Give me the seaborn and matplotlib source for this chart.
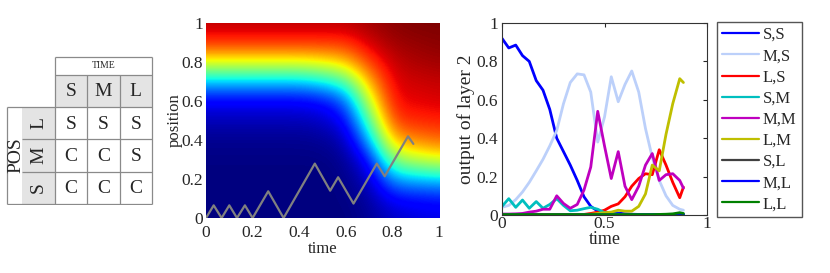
import numpy as np
import pandas as pd
import matplotlib
matplotlib.use('Agg')
import matplotlib.pyplot as plt
from matplotlib.patches import Rectangle
import seaborn as sns

# --- rule table ---
time_cols = ['S', 'M', 'L']
pos_rows = ['L', 'M', 'S']
cells = [['S', 'S', 'S'],
         ['C', 'C', 'S'],
         ['C', 'C', 'C']]

# --- heat field (rows = position 0..1, cols = time 0..1) ---
grid_t = [0, 0.1, 0.2, 0.3, 0.4, 0.5, 0.6, 0.7, 0.8, 0.9, 1.0]
grid_p = [0, 0.1, 0.2, 0.3, 0.4, 0.5, 0.6, 0.7, 0.8, 0.9, 1.0]
field = [
    [0.00, 0.00, 0.00, 0.00, 0.00, 0.00, 0.000, 0.02, 0.06, 0.08, 0.09],
    [0.00, 0.00, 0.00, 0.00, 0.00, 0.00, 0.005, 0.03, 0.12, 0.13, 0.14],
    [0.00, 0.00, 0.00, 0.00, 0.00, 0.00, 0.010, 0.06, 0.28, 0.31, 0.33],
    [0.005, 0.005, 0.005, 0.005, 0.005, 0.005, 0.02, 0.13, 0.52, 0.58, 0.62],
    [0.015, 0.015, 0.015, 0.015, 0.015, 0.02, 0.05, 0.30, 0.72, 0.77, 0.80],
    [0.05, 0.05, 0.05, 0.05, 0.05, 0.06, 0.12, 0.45, 0.85, 0.87, 0.88],
    [0.11, 0.11, 0.11, 0.11, 0.11, 0.13, 0.22, 0.60, 0.90, 0.91, 0.92],
    [0.32, 0.32, 0.32, 0.32, 0.32, 0.36, 0.44, 0.73, 0.92, 0.93, 0.94],
    [0.63, 0.63, 0.63, 0.63, 0.63, 0.65, 0.70, 0.85, 0.94, 0.96, 0.97],
    [0.86, 0.86, 0.86, 0.86, 0.86, 0.86, 0.86, 0.93, 0.97, 0.98, 0.99],
    [0.95, 0.95, 0.95, 0.95, 0.95, 0.95, 0.95, 0.97, 0.99, 1.00, 1.00],
]

# trajectory drawn over the field
path_t = [0, 0.033, 0.067, 0.1, 0.133, 0.167, 0.2, 0.267, 0.333, 0.467,
          0.533, 0.567, 0.633, 0.733, 0.767, 0.867, 0.89]
path_p = [0, 0.065, 0, 0.065, 0, 0.065, 0, 0.137, 0, 0.279,
          0.14, 0.209, 0.074, 0.279, 0.214, 0.419, 0.38]

# --- layer 2 outputs ---
t = [0, 0.033, 0.067, 0.1, 0.133, 0.167, 0.2, 0.233, 0.267, 0.3,
     0.333, 0.367, 0.4, 0.433, 0.467, 0.5, 0.533, 0.567, 0.6, 0.633,
     0.667, 0.7, 0.733, 0.767, 0.8, 0.833, 0.867, 0.885]
ss = [0.92, 0.87, 0.885, 0.83, 0.80, 0.70, 0.65, 0.55, 0.40, 0.33,
      0.26, 0.18, 0.095, 0.045, 0.02, 0.015, 0.012, 0.01, 0.006, 0.004,
      0.003, 0.002, 0.002, 0.002, 0.002, 0.002, 0.002, 0.002]
ms = [0.04, 0.05, 0.08, 0.12, 0.17, 0.23, 0.29, 0.36, 0.44, 0.58,
      0.69, 0.735, 0.73, 0.64, 0.38, 0.51, 0.72, 0.59, 0.68, 0.75,
      0.64, 0.45, 0.30, 0.18, 0.10, 0.05, 0.03, 0.025]
ls = [0.003, 0.003, 0.003, 0.003, 0.003, 0.003, 0.003, 0.003, 0.003, 0.003,
      0.003, 0.003, 0.003, 0.008, 0.015, 0.025, 0.045, 0.058, 0.095, 0.15,
      0.19, 0.215, 0.21, 0.34, 0.26, 0.17, 0.09, 0.145]
sm = [0.045, 0.085, 0.04, 0.078, 0.035, 0.07, 0.035, 0.055, 0.085, 0.05,
      0.022, 0.025, 0.033, 0.04, 0.03, 0.012, 0.006, 0.004, 0.002, 0.002,
      0.002, 0.002, 0.002, 0.002, 0.002, 0.002, 0.002, 0.002]
mm = [0.005, 0.005, 0.006, 0.008, 0.015, 0.02, 0.03, 0.03, 0.1, 0.06,
      0.035, 0.055, 0.13, 0.25, 0.54, 0.36, 0.19, 0.33, 0.15, 0.08,
      0.15, 0.26, 0.32, 0.18, 0.21, 0.215, 0.18, 0.14]
lm = [0.002, 0.002, 0.002, 0.002, 0.002, 0.002, 0.002, 0.002, 0.002, 0.002,
      0.002, 0.002, 0.002, 0.004, 0.008, 0.012, 0.015, 0.025, 0.02, 0.02,
      0.045, 0.11, 0.26, 0.23, 0.42, 0.58, 0.71, 0.69]
sl = [0.002] * 28
ml = [0.001, 0.001, 0.001, 0.001, 0.001, 0.001, 0.001, 0.001, 0.001, 0.001,
      0.001, 0.001, 0.001, 0.001, 0.001, 0.001, 0.001, 0.001, 0.001, 0.001,
      0.001, 0.001, 0.001, 0.001, 0.001, 0.001, 0.002, 0.003]
ll = [0.002, 0.002, 0.002, 0.002, 0.002, 0.002, 0.002, 0.002, 0.002, 0.002,
      0.002, 0.002, 0.002, 0.002, 0.002, 0.002, 0.002, 0.002, 0.002, 0.002,
      0.002, 0.002, 0.002, 0.003, 0.004, 0.006, 0.012, 0.008]

labels = ['S,S', 'M,S', 'L,S', 'S,M', 'M,M', 'L,M', 'S,L', 'M,L', 'L,L']
colors = ['#0000ff', '#bcd0fa', '#ff0000', '#00bfbf', '#bf00bf',
          '#bfbf00', '#404040', '#0000ff', '#008000']

df = pd.DataFrame({
    'time': t * 9,
    'value': ss + ms + ls + sm + mm + lm + sl + ml + ll,
    'series': [lab for lab in labels for _ in t],
})

sns.set_theme(style="white")
plt.rcParams['font.family'] = ['Liberation Serif', 'DejaVu Serif']

W, H = 830, 273
fig = plt.figure(figsize=(8.3, 2.73), dpi=100)


def box(x0, y0, x1, y1):
    return [x0 / W, 1 - y1 / H, (x1 - x0) / W, (y1 - y0) / H]


# ---------- table ----------
tab = fig.add_axes(box(5, 55, 154, 205))
tab.set_xlim(5, 154)
tab.set_ylim(205, 55)
tab.axis('off')
cw = 32.3
x_head = 55
x_pos = 7
x_lab = 22
y_top = 57
y_head = 75
y_body = 107
grey = '#e4e4e4'
lc = '#8a8a8a'
tab.add_patch(Rectangle((x_head, y_head), 3 * cw, y_body - y_head, fc=grey, ec='none'))
tab.add_patch(Rectangle((x_lab, y_body), x_head - x_lab, 3 * cw, fc=grey, ec='none'))
x_end = x_head + 3 * cw
y_end = y_body + 3 * cw
kw = dict(color=lc, lw=0.9, solid_capstyle='butt')
tab.plot([x_head, x_end], [y_top, y_top], **kw)
tab.plot([x_head, x_end], [y_head, y_head], **kw)
tab.plot([x_pos, x_end], [y_body, y_body], **kw)
for i in (1, 2):
    tab.plot([x_lab, x_end], [y_body + i * cw] * 2, **kw)
tab.plot([x_pos, x_end], [y_end, y_end], **kw)
tab.plot([x_pos, x_pos], [y_body, y_end], **kw)
tab.plot([x_head, x_head], [y_top, y_end], **kw)
for i in (1, 2):
    tab.plot([x_head + i * cw] * 2, [y_head, y_end], **kw)
tab.plot([x_end, x_end], [y_top, y_end], **kw)

tab.text(x_head + 1.5 * cw, (y_top + y_head) / 2, 'TIME', fontsize=7,
         ha='center', va='center')
for j, c in enumerate(time_cols):
    tab.text(x_head + (j + 0.5) * cw, (y_head + y_body) / 2 + 1, c,
             fontsize=14, ha='center', va='center')
for i, r in enumerate(pos_rows):
    yc = y_body + (i + 0.5) * cw
    tab.text((x_lab + x_head) / 2, yc, r, fontsize=14, rotation=90,
             ha='center', va='center')
    for j, v in enumerate(cells[i]):
        tab.text(x_head + (j + 0.5) * cw, yc + 1, v, fontsize=14,
                 ha='center', va='center')
tab.text((x_pos + x_lab) / 2 + 1, y_body + 1.5 * cw, 'POS', fontsize=14,
         rotation=90, ha='center', va='center')

# ---------- heat map ----------
ax1 = fig.add_axes(box(206, 23, 439, 218))
ax1.imshow(np.array(field), origin='lower', cmap='jet', vmin=0, vmax=1,
           extent=[-0.05, 1.05, -0.05, 1.05], interpolation='bicubic',
           aspect='auto')
sns.lineplot(x=path_t, y=path_p, color='#808080', lw=1.6, sort=False,
             estimator=None, ax=ax1)
ax1.set_xlim(0, 1)
ax1.set_ylim(0, 1)
ticks = [0, 0.2, 0.4, 0.6, 0.8, 1]
tick_lab = ['0', '0.2', '0.4', '0.6', '0.8', '1']
ax1.set_xticks(ticks)
ax1.set_xticklabels(tick_lab)
ax1.set_yticks(ticks)
ax1.set_yticklabels(tick_lab)
ax1.tick_params(length=0, labelsize=12.5)
ax1.tick_params(axis='x', pad=5)
ax1.tick_params(axis='y', pad=2)
for s in ax1.spines.values():
    s.set_visible(False)
ax1.set_xlabel('time', fontsize=12, labelpad=0)
ax1.set_ylabel('position', fontsize=12, labelpad=-1)

# ---------- layer 2 outputs ----------
ax2 = fig.add_axes(box(502, 23, 707, 215))
sns.lineplot(data=df, x='time', y='value', hue='series', hue_order=labels,
             palette=dict(zip(labels, colors)), lw=2, legend=False,
             estimator=None, sort=False, ax=ax2)
ax2.set_xlim(0, 1)
ax2.set_ylim(0, 1)
ax2.set_xticks([0, 0.5, 1])
ax2.set_xticklabels(['0', '0.5', '1'])
ax2.set_yticks(ticks)
ax2.set_yticklabels(tick_lab)
ax2.tick_params(direction='in', top=True, right=True, length=3, width=0.8,
                labelsize=12.5, pad=3)
ax2.tick_params(axis='x', pad=1)
for s in ax2.spines.values():
    s.set_color('#333333')
    s.set_linewidth(0.8)
ax2.set_xlabel('time', fontsize=13, labelpad=-1)
ax2.set_ylabel('output of layer 2', fontsize=14, labelpad=1)

leg = fig.legend(ax2.get_lines()[:9], labels, loc='upper left',
                 bbox_to_anchor=(717 / W, 1 - 22 / H), fontsize=12,
                 handlelength=2.2, handletextpad=0.26, labelspacing=0.31,
                 borderpad=0.3, borderaxespad=0, fancybox=False,
                 framealpha=1, edgecolor='#555555')
leg.get_frame().set_linewidth(1.0)
for h in leg.get_lines():
    h.set_linewidth(1.6)

fig.savefig('out.png', dpi=100)
